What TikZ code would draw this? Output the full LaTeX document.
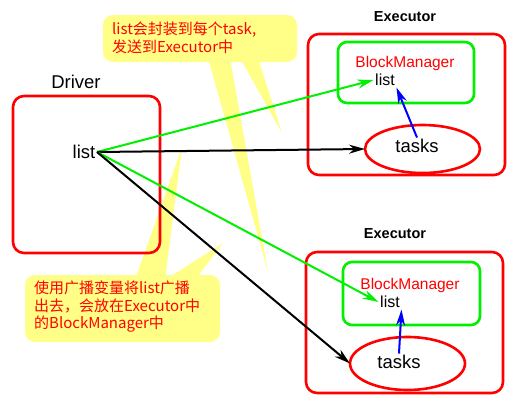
\documentclass[tikz,border=0pt]{standalone}
\usepackage{fontspec}
\setmainfont{Liberation Sans}
\newfontfamily\cjk{Noto Sans CJK SC}
\usetikzlibrary{arrows.meta,shapes.geometric}
\definecolor{notey}{RGB}{255,255,136}
\definecolor{grn}{RGB}{0,240,0}
\definecolor{blu}{RGB}{0,0,255}
\begin{document}
\begin{tikzpicture}[x=1pt,y=-1pt,
  outerbox/.style={draw=red, line width=2.6pt, rounded corners=11pt, inner sep=0pt, outer sep=0pt},
  bmbox/.style={draw=grn, line width=2.6pt, rounded corners=9pt, inner sep=0pt, outer sep=0pt},
  taskell/.style={ellipse, draw=red, line width=2.6pt, inner sep=0pt, outer sep=0pt},
  notebox/.style={fill=notey, rounded corners=10pt, inner sep=0pt},
  notetext/.style={text=red, font=\cjk\fontsize{15}{17.5}\selectfont, align=left, anchor=north west, inner sep=0pt},
  lbl/.style={font=\fontsize{18.5}{20}\selectfont, inner sep=1.5pt},
  bmlbl/.style={font=\fontsize{15.5}{18}\selectfont, text=red, inner sep=1pt},
  smlbl/.style={font=\fontsize{16}{18}\selectfont, inner sep=1.5pt},
  exlbl/.style={font=\bfseries\fontsize{14.5}{16}\selectfont, inner sep=1pt},
  arr/.style={line width=2pt, -{Stealth[length=16pt,width=9pt]}}
]
\useasboundingbox (0,0) rectangle (524,410);
\fill[white] (0,0) rectangle (524,410);

% callouts
\node[notebox, minimum width=194pt, minimum height=47pt] (note1) at (200,38.5) {};
\fill[notey] (208,58) -- (230,58) -- (268,272) -- cycle;
\fill[notey] (240,58) -- (258,58) -- (282,133) -- cycle;
\node[notebox, minimum width=195pt, minimum height=67pt] (note2) at (122.5,308.5) {};
\fill[notey] (135,280) -- (165,280) -- (182,147) -- cycle;
\fill[notey] (165,280) -- (195,280) -- (223,243) -- cycle;
\node[notetext] (t1) at (112,22) {list会封装到每个task,\\发送到Executor中};
\node[notetext] (t2) at (34,281) {使用广播变量将list广播\\出去，会放在Executor中\\的BlockManager中};

% driver
\node[outerbox, minimum width=147pt, minimum height=157pt] (driver) at (86.5,174.5) {};
\node[lbl] (drvlbl) at (76,82) {Driver};
\node[lbl] (dlist) at (84,152) {list};

% executor 1
\node[exlbl] (ex1lbl) at (405,17) {Executor};
\node[outerbox, minimum width=197pt, minimum height=141pt] (ex1) at (406.5,104.5) {};
\node[bmbox, minimum width=136pt, minimum height=61pt] (bm1) at (406,72.5) {};
\node[bmlbl] (bm1lbl) at (405,63) {BlockManager};
\node[smlbl] (elist1) at (385,80) {list};
\node[taskell, minimum width=115pt, minimum height=48pt] (task1) at (422.5,149) {};
\node[lbl] (task1lbl) at (417,146) {tasks};

% executor 2
\node[exlbl] (ex2lbl) at (395,234) {Executor};
\node[outerbox, minimum width=197pt, minimum height=141pt] (ex2) at (404.5,322.5) {};
\node[bmbox, minimum width=137pt, minimum height=63pt] (bm2) at (411.5,293.5) {};
\node[bmlbl] (bm2lbl) at (410,285) {BlockManager};
\node[smlbl] (elist2) at (390,302) {list};
\node[taskell, minimum width=115pt, minimum height=53pt] (task2) at (407.5,363.5) {};
\node[lbl] (task2lbl) at (399,362) {tasks};

% connectors
\draw[arr, draw=grn] (dlist.east) -- (elist1.west);
\draw[arr, draw=black] (dlist.east) -- (task1.west);
\draw[arr, draw=grn] (dlist.east) -- (elist2.west);
\draw[arr, draw=black] (dlist.east) -- (task2.west);
\draw[arr, draw=blu] (task1lbl.north) -- (elist1.south east);
\draw[arr, draw=blu] (task2lbl.north) -- (elist2.south east);
\end{tikzpicture}
\end{document}
